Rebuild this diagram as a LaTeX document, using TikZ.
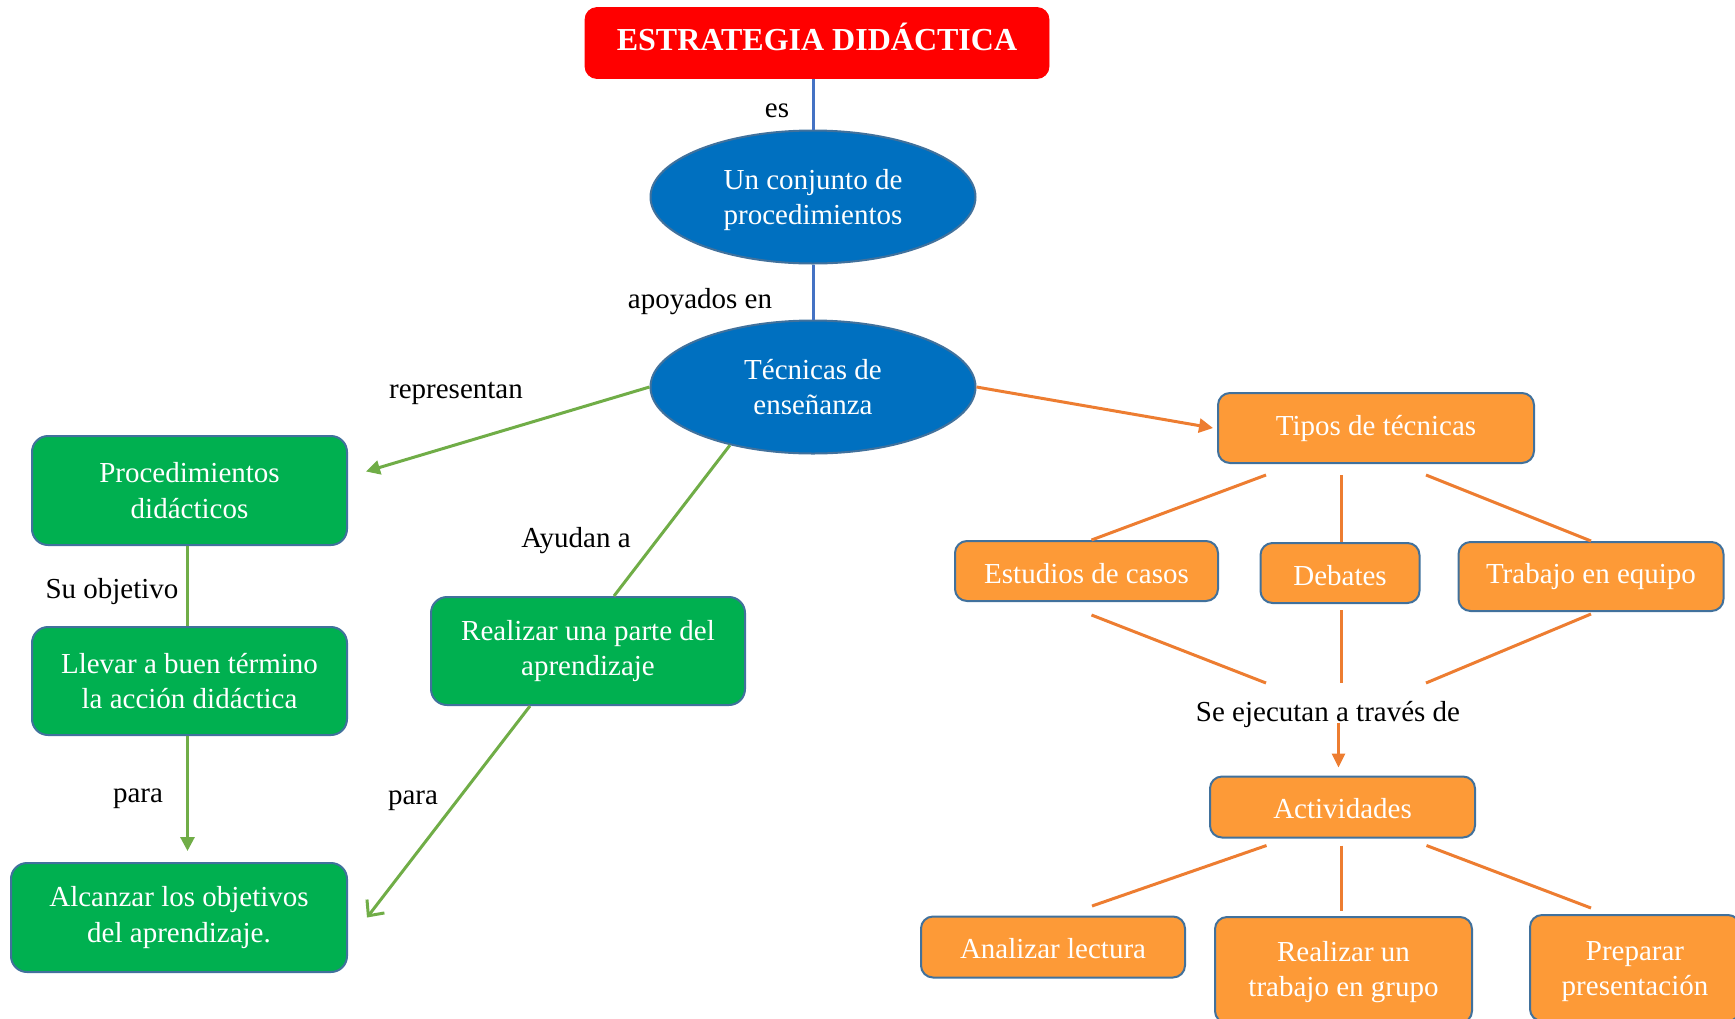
\documentclass[tikz,border=0pt]{standalone}
\usepackage{fontspec}
\setmainfont{Liberation Serif}
\usetikzlibrary{shapes.geometric,arrows.meta,calc}
\definecolor{bred}{HTML}{FF0000}
\definecolor{eblue}{HTML}{0070C0}
\definecolor{bdr}{HTML}{41719C}
\definecolor{gfill}{HTML}{00B050}
\definecolor{ofill}{HTML}{FD9A37}
\definecolor{lblue}{HTML}{4472C4}
\definecolor{lgreen}{HTML}{70AD47}
\definecolor{lorange}{HTML}{ED7D31}
\newcommand{\lift}[1]{\rule{0pt}{#1}}
\tikzset{
 txt/.style={font=\fontsize{14.5}{17.7}\selectfont},
 titlebox/.style={draw=bred, fill=bred, rounded corners=6pt, text=white, align=center, inner sep=0pt,
   font=\fontsize{16}{19}\selectfont\bfseries},
 gbox/.style={draw=bdr, line width=1pt, fill=gfill, rounded corners=8pt, text=white, align=center, inner sep=0pt, txt},
 obox/.style={draw=bdr, line width=1pt, fill=ofill, rounded corners=6pt, text=white, align=center, inner sep=0pt, txt},
 ell/.style={ellipse, draw=bdr, line width=1pt, fill=eblue, text=white, align=center, inner sep=0pt, txt,
   minimum width=162.5pt, minimum height=66.5pt},
 lab/.style={txt, text=black, inner sep=0pt},
 bl/.style={lblue, line width=1.5pt},
 gl/.style={lgreen, line width=1.5pt},
 ol/.style={lorange, line width=1.5pt},
 tip/.style={-{Triangle[length=7pt,width=7pt]}},
}
\begin{document}
\begin{tikzpicture}[x=0.5pt,y=-0.5pt]
\useasboundingbox (0,0) rectangle (1735,1018);
\clip (0,0) rectangle (1735,1018);
% nodes
\node[titlebox, minimum width=232pt, minimum height=35.5pt, text height=7pt, text depth=0pt] (t) at (817,43) {ESTRATEGIA DIDÁCTICA};
\node[ell] (e1) at (813,197) {\lift{13.3pt}Un conjunto de\\procedimientos};
\node[ell] (e2) at (813,387) {Técnicas de\\enseñanza};
\node[gbox, minimum width=157.5pt, minimum height=54.5pt] (proc) at (189.5,490.5) {Procedimientos\\didácticos};
\node[gbox, minimum width=157.5pt, minimum height=54pt] (llevar) at (189.5,681) {Llevar a buen término\\la acción didáctica};
\node[gbox, minimum width=168pt, minimum height=54.5pt] (alc) at (179,917.5) {Alcanzar los objetivos\\del aprendizaje.};
\node[gbox, minimum width=157pt, minimum height=54pt] (realiz) at (588,651) {Realizar una parte del\\aprendizaje};
\node[obox, minimum width=158pt, minimum height=35pt] (tipos) at (1376,428) {Tipos de técnicas};
\node[obox, minimum width=131.5pt, minimum height=30pt, text height=12pt, text depth=0pt] (estudios) at (1086.5,571) {Estudios de casos};
\node[obox, minimum width=79.5pt, minimum height=30pt, text height=12pt, text depth=0pt] (debates) at (1340,573) {Debates};
\node[obox, minimum width=132.5pt, minimum height=34.5pt] (trabajo) at (1591,576.5) {Trabajo en equipo};
\node[obox, minimum width=132.5pt, minimum height=30.5pt, text height=11pt, text depth=0pt] (activ) at (1342.5,807) {Actividades};
\node[obox, minimum width=132pt, minimum height=30.5pt, text height=11pt, text depth=0pt] (analizar) at (1053,947) {Analizar lectura};
\node[obox, minimum width=128.5pt, minimum height=53pt] (grupo) at (1343.5,970) {\lift{12.4pt}Realizar un\\trabajo en grupo};
\node[obox, minimum width=105pt, minimum height=53pt] (preparar) at (1635,968) {\lift{12.9pt}Preparar\\presentación};
% labels
\node[lab] (les) at (777,111) {es};
\node[lab] (lapo) at (700,302) {apoyados en};
\node[lab] (lrep) at (456,393) {representan};
\node[lab] (lsu) at (112,592) {Su objetivo};
\node[lab] (lpara1) at (138,799) {para};
\node[lab] (lay) at (576,541) {Ayudan a};
\node[lab] (lpara2) at (413,801) {para};
\node[lab] (lsej) at (1328,714) {Se ejecutan a través de};
% blue connectors
\draw[bl] (t.south -| e1) -- (e1.north);
\draw[bl] (e1.south) -- (e2.north);
% green connectors
\draw[gl, tip] (e2.west) -- ($(proc.east)+(18,-19)$);
\draw[gl] ($(proc.south)+(-2,0)$) -- ($(llevar.north)+(-2,0)$);
\draw[gl, tip] ($(llevar.south)+(-2,0)$) -- ($(alc.north -| llevar.south)+(-2,-11)$);
\draw[gl] (e2.215) -- ($(realiz.north)+(26,0)$);
\draw[gl, -{Straight Barb[length=6pt,width=11pt]}] ($(realiz.south)+(-58,0)$) -- ($(alc.east)+(19,0)$);
% orange connectors
\draw[ol, tip] (e2.east) -- ($(tipos.west)+(-4,0)$);
\draw[ol] ($(tipos.south)+(-110,11)$) -- ($(estudios.north)+(5,0)$);
\draw[ol] ($(tipos.south)+(-35,11)$) -- ($(debates.north)+(1,0)$);
\draw[ol] ($(tipos.south)+(50,11)$) -- (trabajo.north);
\coordinate (hub) at (1341,683);
\draw[ol] ($(estudios.south)+(5,13)$) -- ($(hub)+(-75,0)$);
\draw[ol] ($(debates.south)+(1,6)$) -- (hub);
\draw[ol] ($(trabajo.south)+(0,2)$) -- ($(hub)+(85,0)$);
\draw[ol, -{Triangle[length=7pt,width=6.5pt]}] ($(activ.north)+(-4,-53)$) -- ($(activ.north)+(-4,-8)$);
\draw[ol] ($(activ.south)+(-76,7)$) -- ($(analizar.north)+(39,-9.5)$);
\draw[ol] ($(activ.south)+(-1,7)$) -- ($(grupo.north)+(-2,-5)$);
\draw[ol] ($(activ.south)+(84,7)$) -- ($(preparar.north)+(-44,-6)$);
\end{tikzpicture}
\end{document}
